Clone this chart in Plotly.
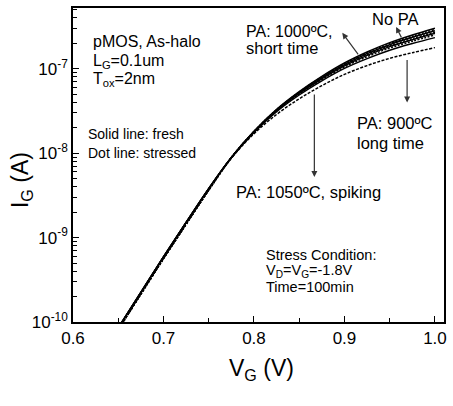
import plotly.graph_objects as go

VG = [0.65, 0.675, 0.70, 0.725, 0.75, 0.775, 0.80, 0.825, 0.85, 0.875, 0.90, 0.925, 0.95, 0.975, 1.0]

# common sub-threshold part (fresh / stressed)
LOW_FRESH = [8.51e-11, 2.24e-10, 5.89e-10, 1.51e-9, 3.80e-9]
LOW_STRESS = [8.10e-11, 2.14e-10, 5.63e-10, 1.44e-9, 3.65e-9]

nopa_fresh    = LOW_FRESH + [8.91e-9, 1.82e-8, 3.31e-8, 5.37e-8, 8.13e-8, 1.17e-7, 1.58e-7, 2.04e-7, 2.51e-7, 3.02e-7]
nopa_stress   = LOW_STRESS + [8.89e-9, 1.81e-8, 3.28e-8, 5.30e-8, 8.00e-8, 1.15e-7, 1.54e-7, 1.98e-7, 2.43e-7, 2.92e-7]
pa1000_fresh  = LOW_FRESH + [8.88e-9, 1.80e-8, 3.25e-8, 5.24e-8, 7.87e-8, 1.12e-7, 1.51e-7, 1.93e-7, 2.36e-7, 2.82e-7]
pa1000_stress = LOW_STRESS + [8.87e-9, 1.79e-8, 3.22e-8, 5.17e-8, 7.73e-8, 1.10e-7, 1.47e-7, 1.87e-7, 2.28e-7, 2.71e-7]
pa900_fresh   = LOW_FRESH + [8.86e-9, 1.79e-8, 3.19e-8, 5.10e-8, 7.61e-8, 1.08e-7, 1.44e-7, 1.83e-7, 2.21e-7, 2.63e-7]
pa900_stress  = LOW_STRESS + [8.84e-9, 1.78e-8, 3.15e-8, 5.02e-8, 7.44e-8, 1.05e-7, 1.39e-7, 1.76e-7, 2.12e-7, 2.51e-7]
pa1050_fresh  = LOW_FRESH + [8.81e-9, 1.76e-8, 3.10e-8, 4.89e-8, 7.20e-8, 1.01e-7, 1.32e-7, 1.66e-7, 1.99e-7, 2.34e-7]
pa1050_stress = LOW_STRESS + [8.71e-9, 1.70e-8, 2.88e-8, 4.41e-8, 6.31e-8, 8.58e-8, 1.09e-7, 1.33e-7, 1.55e-7, 1.78e-7]

series = [
    (nopa_fresh, "solid"), (nopa_stress, "2px,1.5px"),
    (pa1000_fresh, "solid"), (pa1000_stress, "2px,1.5px"),
    (pa900_fresh, "solid"), (pa900_stress, "2px,1.5px"),
    (pa1050_fresh, "solid"), (pa1050_stress, "3px,1.5px"),
]

Y_TICKS = [1e-10, 1e-9, 1e-8, 1e-7]
Y_TICKTEXT = ["10<sup>-10</sup>", "10<sup>-9</sup>", "10<sup>-8</sup>", "10<sup>-7</sup>"]
Y_MINOR = [m * 10.0 ** e for e in (-10, -9, -8, -7) for m in range(2, 10)]

X_TICKS = [0.6, 0.7, 0.8, 0.9, 1.0]
X_TICKTEXT = ["0.6", "0.7", "0.8", "0.9", "1.0"]
X_MINOR = [0.65, 0.75, 0.85, 0.95]

FONT = "Liberation Sans, Arial, sans-serif"

fig = go.Figure()
for ys, dash in series:
    fig.add_trace(go.Scatter(x=VG, y=ys, mode="lines",
                             line=dict(color="black", width=1.5, dash=dash, shape="spline"),
                             showlegend=False, hoverinfo="skip"))

L, R, T, B = 73, 445, 6, 322
W, H = 453, 406

def px(x):
    return (x - L) / (R - L)

def py(y):
    return (B - y) / (B - T)

anns = []

def text(x, y, s, size=15):
    anns.append(dict(x=px(x), y=py(y), xref="paper", yref="paper", text=s,
                     showarrow=False, xanchor="left", yanchor="middle",
                     font=dict(size=size, color="black", family=FONT)))

def arrow(hx, hy, tx, ty):
    anns.append(dict(x=px(hx), y=py(hy), xref="paper", yref="paper", text="",
                     showarrow=True, arrowhead=2, arrowsize=1, arrowwidth=1.2,
                     arrowcolor="#333", ax=tx - hx, ay=ty - hy, standoff=0, startstandoff=0))

text(91, 40, "pMOS, As-halo", 16)
text(91, 60, "L<sub>G</sub>=0.1um", 16)
text(91, 78, "T<sub>ox</sub>=2nm", 16)
text(86, 133, "Solid line: fresh", 14)
text(86, 152, "Dot line: stressed", 14)
text(244, 30, "PA: 1000ºC,", 16)
text(244, 46, "short time", 16.5)
text(371, 17, "No PA", 16.5)
text(356, 122, "PA: 900ºC", 16.5)
text(356, 142, "long time", 16.5)
text(234, 191, "PA: 1050ºC, spiking", 16.5)
text(265, 255, "Stress Condition:", 14.5)
text(265, 271, "V<sub>D</sub>=V<sub>G</sub>=-1.8V", 14.5)
text(265, 287, "Time=100min", 14.5)

arrow(397, 25, 403, 37)
arrow(343, 31, 360, 54)
arrow(408, 101, 408, 57)
arrow(315, 176, 315, 92)

# axis titles
anns.append(dict(x=px(262), y=py(370), xref="paper", yref="paper",
                 text="V<sub>G</sub> (V)", showarrow=False, xanchor="center", yanchor="middle",
                 font=dict(size=23, color="black", family=FONT)))
anns.append(dict(x=px(22), y=py(179), xref="paper", yref="paper",
                 text="I<sub>G</sub> (A)", showarrow=False, xanchor="center", yanchor="middle",
                 textangle=-90, font=dict(size=23, color="black", family=FONT)))

fig.update_layout(
    width=W, height=H,
    margin=dict(l=L, r=W - R, t=T, b=H - B),
    paper_bgcolor="white", plot_bgcolor="white",
    font=dict(family=FONT, color="black"),
    annotations=anns,
    xaxis=dict(range=[0.6, 1.01], tickvals=X_TICKS, ticktext=X_TICKTEXT,
               ticks="inside", ticklen=6, tickwidth=1, tickcolor="black",
               showline=True, linecolor="black", linewidth=1.5, mirror=True,
               showgrid=False, zeroline=False,
               tickfont=dict(size=17, family=FONT, color="black"),
               minor=dict(tickvals=X_MINOR, ticks="inside", ticklen=4,
                          tickcolor="black", showgrid=False)),
    yaxis=dict(type="log", range=[-10, -6.28], tickvals=Y_TICKS, ticktext=Y_TICKTEXT,
               ticks="inside", ticklen=6, tickwidth=1, tickcolor="black",
               showline=True, linecolor="black", linewidth=1.5, mirror=True,
               showgrid=False, zeroline=False,
               tickfont=dict(size=17, family=FONT, color="black"),
               minor=dict(tickvals=Y_MINOR, ticks="inside", ticklen=4,
                          tickcolor="black", showgrid=False)),
)

fig.write_html("out.html")
